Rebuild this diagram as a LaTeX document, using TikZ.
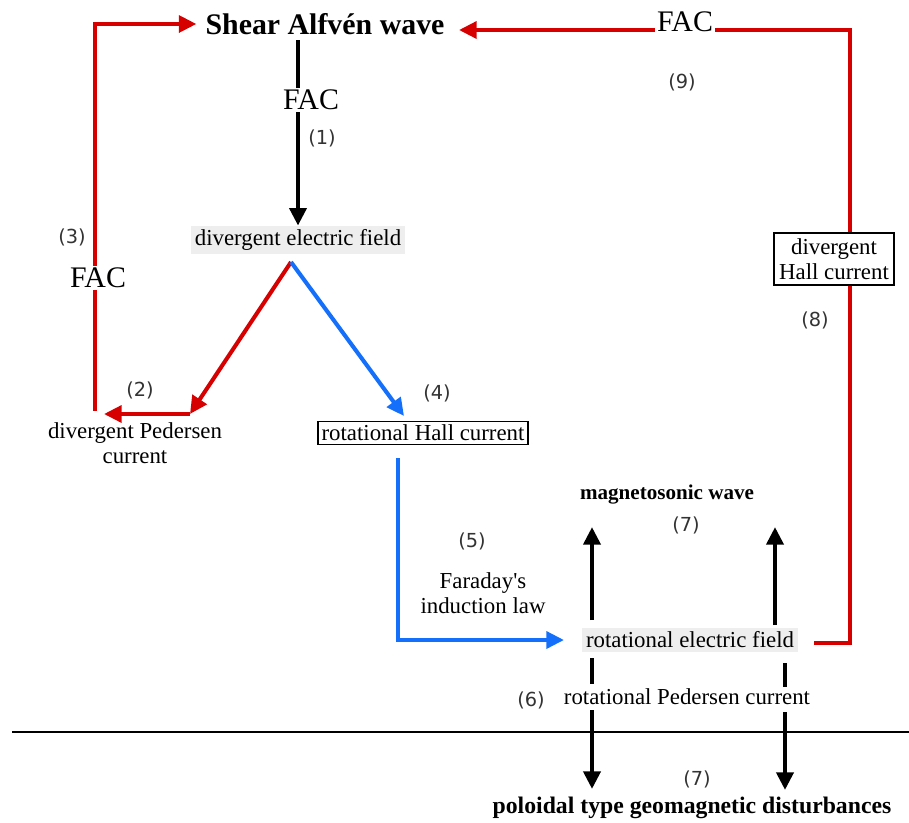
\documentclass[tikz,border=0pt]{standalone}
\usepackage{fontspec}
\setmainfont{Liberation Serif}
\newfontfamily\numfont{DejaVu Sans}
\usetikzlibrary{arrows.meta, backgrounds}
\definecolor{facred}{RGB}{214,0,0}
\definecolor{hallblue}{RGB}{20,112,250}
\begin{document}
\begin{tikzpicture}[x=0.02cm, y=-0.02cm,
    txt/.style={font=\fontsize{13}{14.5}\selectfont, inner sep=2pt},
    fld/.style={txt, fill=gray!13},
    hbox/.style={txt, draw, line width=0.8pt, fill=white},
    hd/.style={font=\bfseries\fontsize{17}{19}\selectfont, inner sep=3pt},
    num/.style={font=\numfont\fontsize{11}{13}\selectfont, text=black!80},
    fac/.style={font=\fontsize{17}{19}\selectfont, fill=white, inner sep=1pt},
    tip/.style={-{Triangle[length=10pt,width=9.5pt]}},
    redl/.style={draw=facred, line width=2.3pt},
    bluel/.style={draw=hallblue, line width=2.3pt},
    blkl/.style={draw=black, line width=2.6pt}]
    \useasboundingbox (0,0) rectangle (909,822);

    % Nodes
    \node[hd] (saw) at (325,24) {Shear Alfvén wave};
    \node[fac] (fac1) at (311,100) {FAC};
    \node[fld] (def) at (298,240) {divergent electric field};
    \node[txt, align=center] (dpc) at (135,443) {divergent Pedersen\\current};
    \node[hbox] (rhc) at (423,433) {rotational Hall current};
    \node[txt, align=center] (far) at (483,593) {Faraday\textquotesingle s\\induction law};
    \node[fld] (ref) at (690,640) {rotational electric field};
    \node[hbox, align=center, inner sep=3pt] (dhc) at (834,259) {divergent\\Hall current};
    \node[hd, font=\bfseries\fontsize{12}{14}\selectfont] (msw) at (667,495) {magnetosonic wave};
    \node[txt] (rpc) at (687,697) {rotational Pedersen current};
    \node[hd, font=\bfseries\fontsize{13.5}{15}\selectfont] (ptg) at (692,808) {poloidal type geomagnetic disturbances};
    \node[fac] (fac3) at (98,278) {FAC};
    \node[fac] (fac9) at (685,22) {FAC};

    % Step numbers
    \node[num] (n1) at (322,138) {(1)};
    \node[num] (n2) at (140,390) {(2)};
    \node[num] (n3) at (72,237) {(3)};
    \node[num] (n4) at (437,393) {(4)};
    \node[num] (n5) at (472,541) {(5)};
    \node[num] (n6) at (531,700) {(6)};
    \node[num] (n7a) at (686,525) {(7)};
    \node[num] (n7b) at (697,779) {(7)};
    \node[num] (n8) at (815,320) {(8)};
    \node[num] (n9) at (682,82) {(9)};

    % Corner points
    \coordinate (fork) at (291,262);
    \coordinate (dpcR) at (190,414);
    \coordinate (dpcL) at (104,414);
    \coordinate (loopL) at (95,411);
    \coordinate (rhcEnd) at (404,416);
    \coordinate (blueTop) at (398,458);
    \coordinate (blueEnd) at (564,640);
    \coordinate (redStart) at (814,643);
    \coordinate (redTop) at (850,30);
    \coordinate (redEnd) at (459,30);

    \begin{pgfonlayer}{background}
        % Ground line
        \draw[line width=0.7pt] (12,732) -- (909,732);

        % FAC into the ionosphere
        \draw[blkl] (def.north |- saw.south) -- (def.north |- fac1.north);
        \draw[blkl, tip] (def.north |- fac1.south) -- (def.north);

        % Pedersen branch
        \draw[redl, tip] (fork) -- (dpcR);
        \draw[redl, tip] (dpcR) -- (dpcL);
        \draw[redl, tip] (loopL) |- ([xshift=-2]saw.west);

        % Hall branch
        \draw[bluel, tip] (fork) -- (rhcEnd);
        \draw[bluel, tip] (blueTop) |- (blueEnd);

        % Return via divergent Hall current
        \draw[redl, tip] (redStart) -| (redTop) -- (redEnd);

        % Magnetosonic wave and ground
        \draw[blkl, tip] (592,620) -- (592,527);
        \draw[blkl, tip] (775,625) -- (775,527);
        \draw[blkl] (592,658) -- (592,684);
        \draw[blkl, tip] (592,710) -- (592,789);
        \draw[blkl] (785,663) -- (785,687);
        \draw[blkl, tip] (785,712) -- (785,790);
    \end{pgfonlayer}
\end{tikzpicture}
\end{document}
